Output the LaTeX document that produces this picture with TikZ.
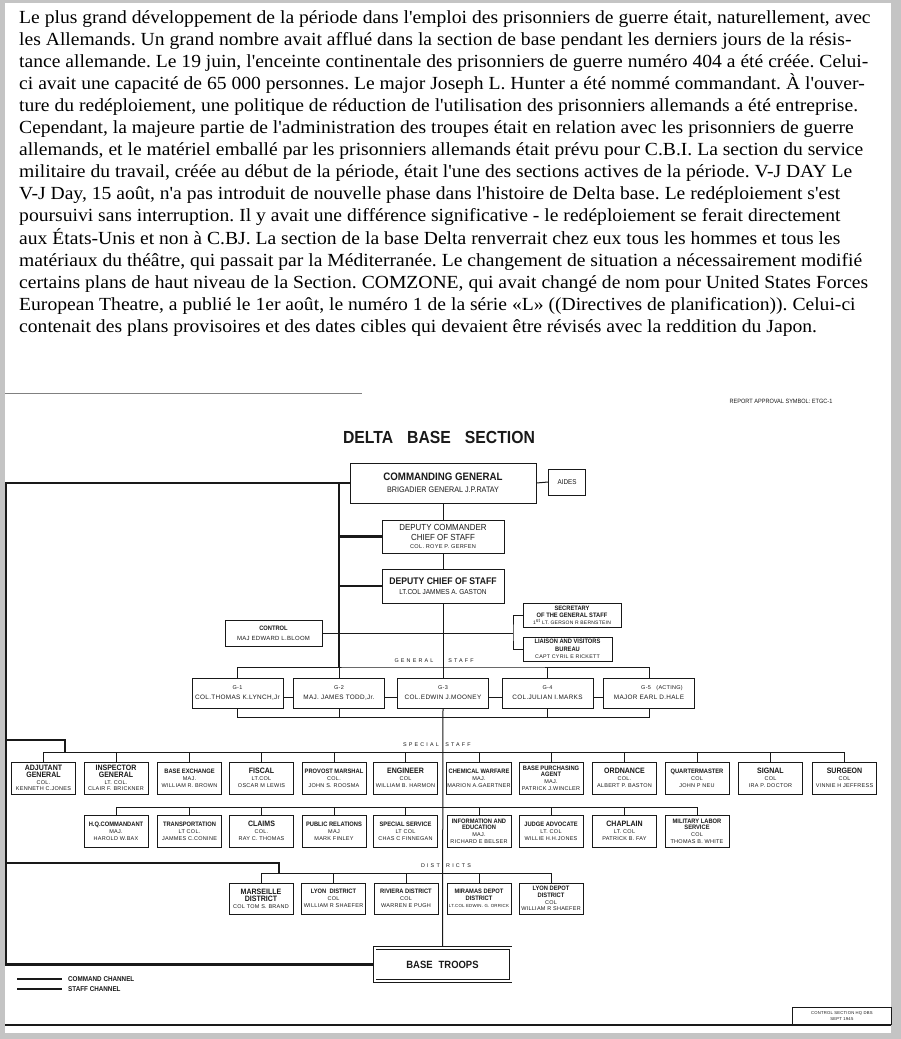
\documentclass[tikz,border=0pt]{standalone}
\usepackage{fontspec}
\newfontfamily\introfont[FakeStretch=1.06]{Liberation Serif}
\newfontfamily\chartfont[FakeStretch=0.9]{Liberation Sans}
\newfontfamily\namefont[LetterSpace=5]{Liberation Sans}
\definecolor{framegray}{RGB}{196,196,196}
\definecolor{ink}{RGB}{25,25,25}
\newcommand{\ttl}[1]{{\chartfont\bfseries\fontsize{6.4}{6.4}\selectfont #1}}
\newcommand{\ttlbig}[1]{{\chartfont\bfseries\fontsize{7.8}{7.8}\selectfont #1}}
\frenchspacing
\begin{document}
\begin{tikzpicture}[x=1pt,y=-1pt,
  box/.style={draw=ink,line width=0.8pt,inner sep=0.5pt,align=center,text=ink},
  ssbox/.style={box,minimum width=64pt,minimum height=32pt,font=\namefont\fontsize{5.5}{6.8}\selectfont},
  distbox/.style={ssbox,minimum height=31pt},
  gbox/.style={box,minimum width=91pt,minimum height=30pt,font=\namefont\fontsize{6.4}{10}\selectfont},
  topbox/.style={box,font=\chartfont\fontsize{8.5}{10}\selectfont},
  staff/.style={draw=ink,line width=1pt},
  command/.style={draw=ink,line width=2.4pt},
  spaced/.style={text=ink,inner sep=0pt,font=\namefont\fontsize{5.4}{6}\selectfont\addfontfeature{LetterSpace=40}}]
   %frame
   \useasboundingbox (0,0) rectangle (901,1039);
   \fill[framegray] (0,0) rectangle (901,1039);
   \fill[white] (5,3) rectangle (891,1033);
   %text
   \node[anchor=north west,inner sep=0pt,align=left,font=\introfont\fontsize{18.5}{22.1}\selectfont] (intro) at (19,10) {Le plus grand développement de la période dans l'emploi des prisonniers de guerre était, naturellement, avec\\
les Allemands. Un grand nombre avait afflué dans la section de base pendant les derniers jours de la résis-\\
tance allemande. Le 19 juin, l'enceinte continentale des prisonniers de guerre numéro 404 a été créée. Celui-\\
ci avait une capacité de 65 000 personnes. Le major Joseph L. Hunter a été nommé commandant. À l'ouver-\\
ture du redéploiement, une politique de réduction de l'utilisation des prisonniers allemands a été entreprise.\\
Cependant, la majeure partie de l'administration des troupes était en relation avec les prisonniers de guerre\\
allemands, et le matériel emballé par les prisonniers allemands était prévu pour C.B.I. La section du service\\
militaire du travail, créée au début de la période, était l'une des sections actives de la période. V-J DAY Le\\
V-J Day, 15 août, n'a pas introduit de nouvelle phase dans l'histoire de Delta base. Le redéploiement s'est\\
poursuivi sans interruption. Il y avait une différence significative - le redéploiement se ferait directement\\
aux États-Unis et non à C.BJ. La section de la base Delta renverrait chez eux tous les hommes et tous les\\
matériaux du théâtre, qui passait par la Méditerranée. Le changement de situation a nécessairement modifié\\
certains plans de haut niveau de la Section. COMZONE, qui avait changé de nom pour United States Forces\\
European Theatre, a publié le 1er août, le numéro 1 de la série «L» ((Directives de planification)). Celui-ci\\
contenait des plans provisoires et des dates cibles qui devaient être révisés avec la reddition du Japon.};
   %scan edges
   \draw[gray,line width=0.6pt] (5,393) -- (362,393);
   \draw[ink,line width=1.2pt] (5,1025) -- (891,1025);
   %heading
   \node[text=ink,font=\chartfont\fontsize{6.2}{7}\selectfont] (approval) at (781,401) {REPORT APPROVAL SYMBOL:\ ETGC-1};
   \node[text=ink,font=\chartfont\bfseries\fontsize{17.5}{20}\selectfont] (title) at (439,437) {DELTA\hspace{14pt}BASE\hspace{14pt}SECTION};
   %command
   \node[topbox,minimum width=186pt,minimum height=40pt,font=\chartfont\fontsize{8}{12}\selectfont] (cg) at (443,483) {{\bfseries\fontsize{10.8}{12}\selectfont COMMANDING GENERAL}\\BRIGADIER GENERAL J.P.RATAY};
   \node[topbox,minimum width=37pt,minimum height=26pt,font=\chartfont\fontsize{7}{8}\selectfont] (aides) at (567,482) {AIDES};
   \node[topbox,minimum width=122pt,minimum height=33pt,font=\chartfont\fontsize{8.8}{9.5}\selectfont] (dc) at (443,536.5) {DEPUTY COMMANDER\\CHIEF OF STAFF\\[-1.5pt]{\namefont\fontsize{5.6}{6}\selectfont COL. ROYE P. GERFEN}};
   \node[topbox,minimum width=122pt,minimum height=34pt,font=\chartfont\fontsize{7.2}{10}\selectfont] (dcs) at (443,586) {{\bfseries\fontsize{9.6}{10}\selectfont DEPUTY CHIEF OF STAFF}\\LT.COL\ JAMMES A. GASTON};
   \node[topbox,minimum width=97pt,minimum height=26pt,font=\namefont\fontsize{6}{10}\selectfont] (control) at (273.5,633) {\ttl{CONTROL}\\MAJ EDWARD L.BLOOM};
   \node[topbox,minimum width=98pt,minimum height=24pt,font=\namefont\fontsize{5}{7}\selectfont] (sec) at (572,615) {\ttl{SECRETARY}\\\ttl{OF THE GENERAL STAFF}\\1\textsuperscript{st} LT. GERSON R BERNSTEIN};
   \node[topbox,minimum width=89pt,minimum height=24pt,font=\namefont\fontsize{5.3}{7.5}\selectfont] (liaison) at (567.5,649) {\ttl{LIAISON AND VISITORS}\\\ttl{BUREAU}\\CAPT CYRIL E RICKETT};
   %general staff
   \node[gbox] (g1) at (237.5,693) {{\fontsize{5.5}{6}\selectfont G-1}\\COL.THOMAS K.LYNCH,Jr};
   \node[gbox] (g2) at (339,693) {{\fontsize{5.5}{6}\selectfont G-2}\\MAJ. JAMES TODD,Jr.};
   \node[gbox] (g3) at (443,693) {{\fontsize{5.5}{6}\selectfont G-3}\\COL.EDWIN J.MOONEY};
   \node[gbox] (g4) at (547.5,693) {{\fontsize{5.5}{6}\selectfont G-4}\\COL.JULIAN I.MARKS};
   \node[gbox] (g5) at (649,693) {{\fontsize{5.5}{6}\selectfont\hspace*{26pt}G-5\quad(ACTING)}\\MAJOR EARL D.HALE};
   \node[spaced] (gslabel) at (414,661) {GENERAL};
   \node[spaced] (gslabelb) at (461,661) {STAFF};
   %special staff
   \node[ssbox] (adj) at (43.5,778) {\ttlbig{ADJUTANT}\\\ttlbig{GENERAL}\\COL.\\KENNETH C.JONES};
   \node[ssbox] (insp) at (116,778) {\ttlbig{INSPECTOR}\\\ttlbig{GENERAL}\\LT. COL.\\CLAIR F. BRICKNER};
   \node[ssbox] (bx) at (189.5,778) {\ttl{BASE EXCHANGE}\\MAJ.\\WILLIAM R. BROWN};
   \node[ssbox] (fiscal) at (261.5,778) {\ttlbig{FISCAL}\\LT.COL\\OSCAR M LEWIS};
   \node[ssbox] (pm) at (334,778) {\ttl{PROVOST MARSHAL}\\COL.\\JOHN S. ROOSMA};
   \node[ssbox] (eng) at (405.5,778) {\ttlbig{ENGINEER}\\COL\\WILLIAM B. HARMON};
   \node[ssbox] (chem) at (479,778) {\ttl{CHEMICAL WARFARE}\\MAJ.\\MARION A.GAERTNER};
   \node[ssbox] (bpa) at (551,778) {\ttl{BASE PURCHASING}\\\ttl{AGENT}\\MAJ.\\PATRICK J.WINCLER};
   \node[ssbox] (ord) at (624.5,778) {\ttlbig{ORDNANCE}\\COL.\\ALBERT P. BASTON};
   \node[ssbox] (qm) at (697,778) {\ttl{QUARTERMASTER}\\COL\\JOHN P NEU};
   \node[ssbox] (sig) at (770.5,778) {\ttlbig{SIGNAL}\\COL\\IRA P. DOCTOR};
   \node[ssbox] (surg) at (844.5,778) {\ttlbig{SURGEON}\\COL\\VINNIE H JEFFRESS};
   \node[ssbox] (hq) at (116,831) {\ttl{H.Q.COMMANDANT}\\MAJ.\\HAROLD W.BAX};
   \node[ssbox] (trans) at (189.5,831) {\ttl{TRANSPORTATION}\\LT COL.\\JAMMES C.CONINE};
   \node[ssbox] (claims) at (261.5,831) {\ttlbig{CLAIMS}\\COL.\\RAY C. THOMAS};
   \node[ssbox] (pr) at (334,831) {\ttl{PUBLIC RELATIONS}\\MAJ\\MARK FINLEY};
   \node[ssbox] (ss) at (405.5,831) {\ttl{SPECIAL SERVICE}\\LT COL\\CHAS C FINNEGAN};
   \node[ssbox] (ie) at (479,831) {\ttl{INFORMATION AND}\\\ttl{EDUCATION}\\MAJ.\\RICHARD E BELSER};
   \node[ssbox] (ja) at (551,831) {\ttl{JUDGE ADVOCATE}\\LT. COL\\WILLIE H.H.JONES};
   \node[ssbox] (chap) at (624.5,831) {\ttlbig{CHAPLAIN}\\LT. COL\\PATRICK B. FAY};
   \node[ssbox] (mls) at (697,831) {\ttl{MILITARY LABOR}\\\ttl{SERVICE}\\COL\\THOMAS B. WHITE};
   \node[spaced] (sslabel) at (421,745) {SPECIAL};
   \node[spaced] (sslabelb) at (458,745) {STAFF};
   %districts
   \node[distbox] (marseille) at (261,898.5) {\ttlbig{MARSEILLE}\\\ttlbig{DISTRICT}\\COL TOM S. BRAND};
   \node[distbox] (lyon) at (333.5,898.5) {\ttl{LYON\enspace DISTRICT}\\COL\\WILLIAM R SHAEFER};
   \node[distbox] (riviera) at (406,898.5) {\ttl{RIVIERA DISTRICT}\\COL\\WARREN E PUGH};
   \node[distbox] (miramas) at (479,898.5) {\ttl{MIRAMAS DEPOT}\\\ttl{DISTRICT}\\{\fontsize{4.4}{5}\selectfont LT.COL EDWIN. G. ORRICK}};
   \node[distbox] (lyondepot) at (551,898.5) {\ttl{LYON DEPOT}\\\ttl{DISTRICT}\\COL\\WILLIAM R SHAEFER};
   \node[spaced,anchor=east] (dlabel) at (440,866) {DIST};
   \node[spaced,anchor=west] (dlabelb) at (446,866) {RICTS};
   \node[box,double=white,double distance=2pt,line width=0.7pt,outer sep=2pt,minimum width=136pt,minimum height=33pt,font=\chartfont\bfseries\fontsize{10.5}{12}\selectfont] (troops) at (442.5,964.5) {BASE\hspace{6pt}TROOPS};
   %bus points
   \coordinate (gtop) at (443,667);
   \coordinate (gbot) at (443,717);
   \coordinate (ssbus) at (443,752);
   \coordinate (ssbusb) at (443,807);
   \coordinate (distbus) at (443,873);
   \coordinate (brk) at (513,633);
   \coordinate (cmdtop) at (339,483);
   \coordinate (lefttop) at (6,483);
   \coordinate (leftbot) at (6,964.5);
   \coordinate (ssturn) at (65,740);
   \coordinate (distturn) at (279,863);
   %command channel
   \draw[command] (cg.west) -- (lefttop) -- (leftbot) -- (troops.west);
   \draw[command] (lefttop |- ssturn) -- (ssturn) -- (ssturn |- ssbus);
   \draw[command] (lefttop |- distturn) -- (distturn) -- (distturn |- distbus);
   \draw[command] (cmdtop) -- (cmdtop |- gtop);
   \draw[command] (cmdtop |- dc.west) -- (dc.west);
   \draw[command] (cmdtop |- dcs.west) -- (dcs.west);
   %staff channel
   \draw[staff] (cg.east) -- (aides.west);
   \draw[staff] (cg.south) -- (dc.north);
   \draw[staff] (dc.south) -- (dcs.north);
   \draw[staff] (dcs.south) -- (g3.north);
   \draw[staff] (g3.south) -- (troops.north);
   \draw[staff] (control.east) -- (brk);
   \draw[staff] (sec.west) -| (brk) |- (liaison.west);
   \draw[staff] (g1.north) |- (gtop) -| (g5.north);
   \draw[staff] (g2.north) -- (g2.north |- gtop);
   \draw[staff] (g4.north) -- (g4.north |- gtop);
   \draw[staff] (g1.south) |- (gbot) -| (g5.south);
   \draw[staff] (g2.south) -- (g2.south |- gbot);
   \draw[staff] (g4.south) -- (g4.south |- gbot);
   \draw[staff] ([yshift=-4pt]g1.east) -- ([yshift=-4pt]g2.west);
   \draw[staff] ([yshift=-4pt]g2.east) -- ([yshift=-4pt]g3.west);
   \draw[staff] ([yshift=-4pt]g3.east) -- ([yshift=-4pt]g4.west);
   \draw[staff] ([yshift=-4pt]g4.east) -- ([yshift=-4pt]g5.west);
   \draw[staff] (adj.north) |- (ssbus) -| (surg.north);
   \draw[staff] (insp.north) -- (insp.north |- ssbus);
   \draw[staff] (bx.north) -- (bx.north |- ssbus);
   \draw[staff] (fiscal.north) -- (fiscal.north |- ssbus);
   \draw[staff] (pm.north) -- (pm.north |- ssbus);
   \draw[staff] (eng.north) -- (eng.north |- ssbus);
   \draw[staff] (chem.north) -- (chem.north |- ssbus);
   \draw[staff] (bpa.north) -- (bpa.north |- ssbus);
   \draw[staff] (ord.north) -- (ord.north |- ssbus);
   \draw[staff] (qm.north) -- (qm.north |- ssbus);
   \draw[staff] (sig.north) -- (sig.north |- ssbus);
   \draw[staff] (hq.north) |- (ssbusb) -| (mls.north);
   \draw[staff] (trans.north) -- (trans.north |- ssbusb);
   \draw[staff] (claims.north) -- (claims.north |- ssbusb);
   \draw[staff] (pr.north) -- (pr.north |- ssbusb);
   \draw[staff] (ss.north) -- (ss.north |- ssbusb);
   \draw[staff] (ie.north) -- (ie.north |- ssbusb);
   \draw[staff] (ja.north) -- (ja.north |- ssbusb);
   \draw[staff] (chap.north) -- (chap.north |- ssbusb);
   \draw[staff] (marseille.north) |- (distbus) -| (lyondepot.north);
   \draw[staff] (lyon.north) -- (lyon.north |- distbus);
   \draw[staff] (riviera.north) -- (riviera.north |- distbus);
   \draw[staff] (miramas.north) -- (miramas.north |- distbus);
   %legend
   \coordinate (cmdkeya) at (17,979);
   \coordinate (cmdkeyb) at (62,979);
   \coordinate (stfkeya) at (17,989);
   \coordinate (stfkeyb) at (62,989);
   \draw[command,line width=2.8pt] (cmdkeya) -- (cmdkeyb);
   \draw[staff,line width=1.8pt] (stfkeya) -- (stfkeyb);
   \node[anchor=west,inner sep=0pt,text=ink,font=\chartfont\bfseries\fontsize{7}{8}\selectfont] (cmdkey) at (68,979) {COMMAND CHANNEL};
   \node[anchor=west,inner sep=0pt,text=ink,font=\chartfont\bfseries\fontsize{7}{8}\selectfont] (stfkey) at (68,989) {STAFF CHANNEL};
   %stamp
   \node[draw=ink,line width=0.8pt,anchor=south west,minimum width=99pt,minimum height=17pt,inner sep=0pt,align=center,text=ink,font=\namefont\fontsize{4.2}{6}\selectfont] (stamp) at (792,1025) {CONTROL SECTION HQ DBS\\SEPT 1945};
\end{tikzpicture}
\end{document}
